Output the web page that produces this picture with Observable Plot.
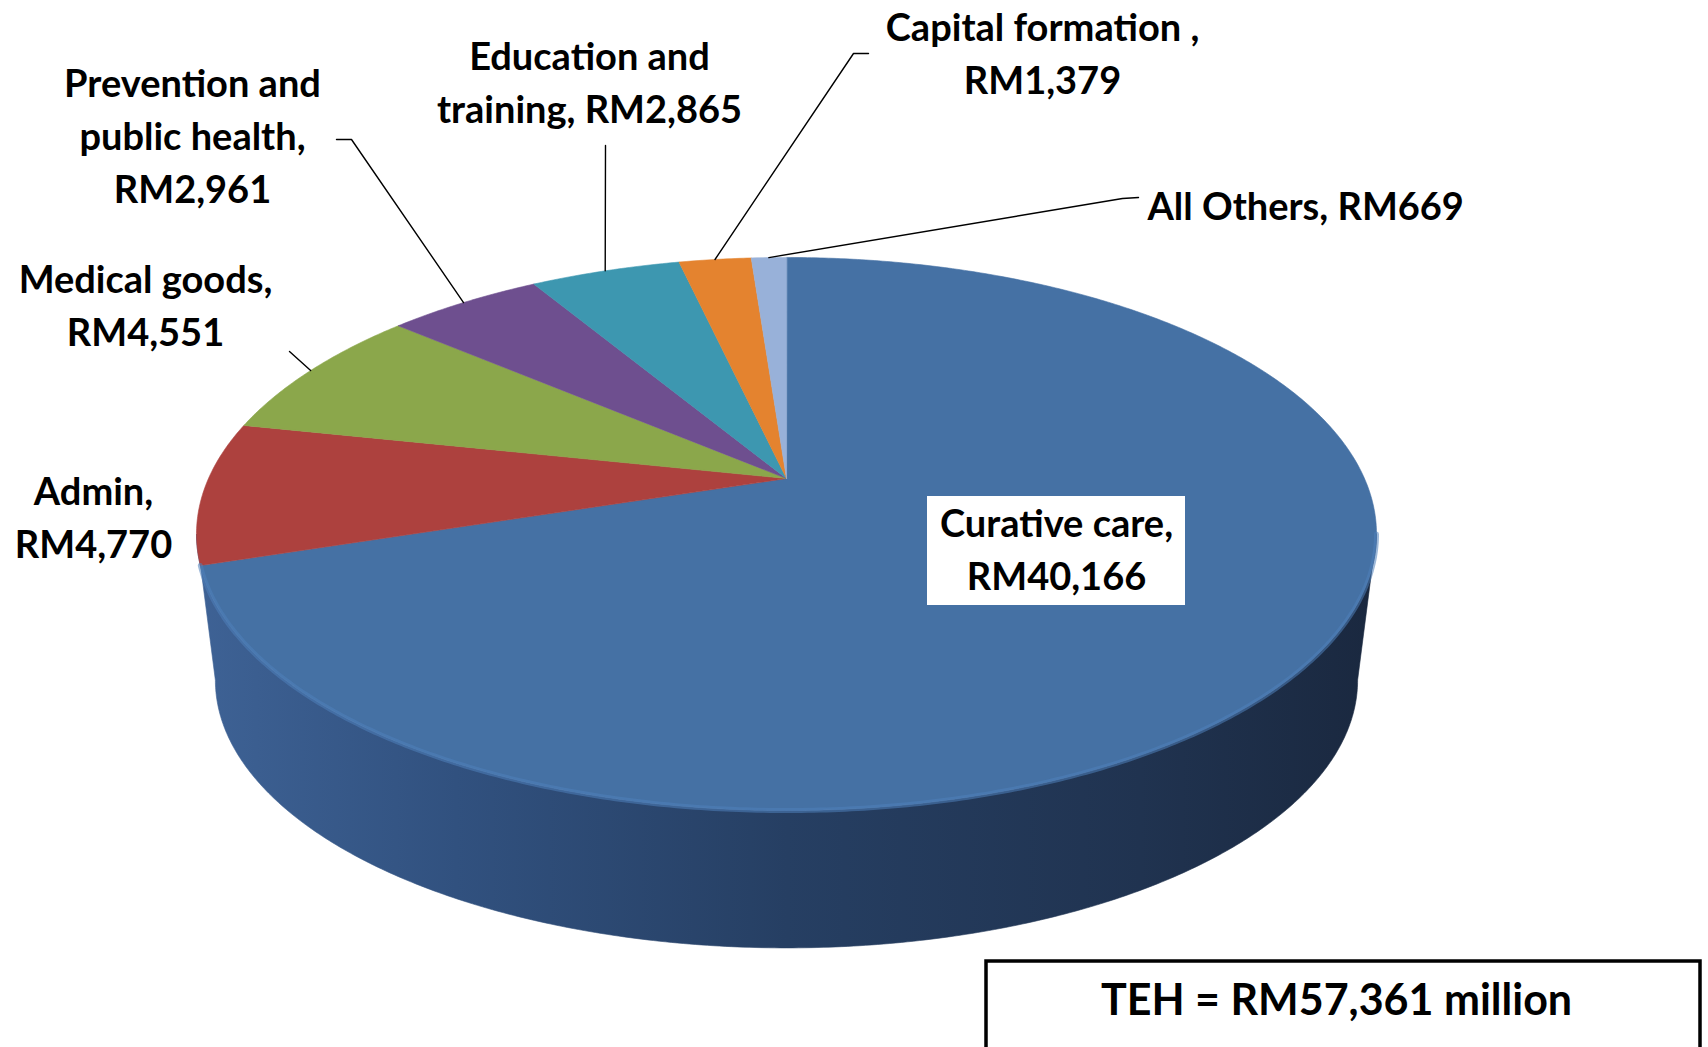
<!DOCTYPE html>
<html>
<head>
<meta charset="utf-8">
<script src="https://cdn.jsdelivr.net/npm/d3@7"></script>
<script src="https://cdn.jsdelivr.net/npm/@observablehq/plot@0.6"></script>
<style>
  html, body { margin: 0; padding: 0; background: #ffffff; }
  #chart { width: 1708px; height: 1047px; overflow: hidden; }
</style>
</head>
<body>
<div id="chart"></div>
<script>
// ---------------- DATA ----------------
const categories = ["Curative care", "Admin", "Medical goods", "Prevention and public health", "Education and training", "Capital formation", "All Others"];
const values = [40166, 4770, 4551, 2961, 2865, 1379, 669];
const labelTexts = [
  "Curative care,\nRM40,166",
  "Admin,\nRM4,770",
  "Medical goods,\nRM4,551",
  "Prevention and\npublic health,\nRM2,961",
  "Education and\ntraining, RM2,865",
  "Capital formation ,\nRM1,379",
  "All Others, RM669"
];
const totalLabel = "TEH = RM57,361 million";

// ---------------- STYLE / LAYOUT ----------------
const W = 1708, H = 1047;
const topColors = ["#4571a4", "#ad413e", "#8ba74b", "#6e4f8f", "#3d97b0", "#e4832f", "#98b1d9"];
const sideFill = "url(#sideBlue)";
// perspective projection of the pie disc (pixel units of the chart's scales)
const pie = { x0: 786, y0: 478, A: 578, B: 265.4, k: 0.2007, depthScale: 0.968, depth: 148 };
const font = "Lato, 'Open Sans', sans-serif";
const fontSize = 38;
const lineH = 53 / fontSize;
// label positions (centre of the text block) and leader-line bends
const labelPos = {
  "Curative care": [1056, 546],
  "Admin": [93, 514],
  "Medical goods": [145, 302],
  "Prevention and public health": [192, 133],
  "Education and training": [589, 79],
  "Capital formation": [1042, 50],
  "All Others": [1147, 207]
};
const leaderBends = {
  "Medical goods": [[289, 351]],
  "Prevention and public health": [[351, 139], [336, 139]],
  "Education and training": [[605, 145]],
  "Capital formation": [[853, 53], [868, 53]],
  "All Others": [[1122, 198], [1138, 197]]
};
const curativeBox = { x1: 927, x2: 1185, y1: 496, y2: 605 };
const totalBox = { x1: 986, x2: 1700, y1: 961, y2: 1052, tx: 1336, ty: 1001 };

// ---------------- GEOMETRY ----------------
function proj(theta, bottom = false) {
  const u = Math.sin(theta), v = Math.cos(theta);
  const w = 1 + pie.k * v;
  const s = bottom ? pie.depthScale : 1;
  const dy = bottom ? pie.depth : 0;
  return [pie.x0 + s * pie.A * u / w, pie.y0 + dy - s * pie.B * v / w];
}
function arc(a0, a1, bottom) {
  const n = Math.max(2, Math.ceil(Math.abs(a1 - a0) / (2 * Math.PI) * 720));
  return d3.range(n + 1).map(j => proj(a0 + (a1 - a0) * j / n, bottom));
}
const total = d3.sum(values);
let cum = 0;
const slices = values.map((v, i) => {
  const a0 = cum / total * 2 * Math.PI;
  cum += v;
  const a1 = cum / total * 2 * Math.PI;
  return { i, cat: categories[i], a0, a1, mid: (a0 + a1) / 2 };
});
const thetaR = Math.PI / 2 + Math.asin(pie.k);
const thetaL = 3 * Math.PI / 2 - Math.asin(pie.k);

const marks = [];
// front side wall (only the curative slice's wall shows)
{
  const pts = arc(thetaR, thetaL, false).concat(arc(thetaL, thetaR, true)).map(([x, y]) => ({ x, y }));
  marks.push(Plot.line(pts, { x: "x", y: "y", fill: sideFill, stroke: sideFill, strokeWidth: 0.6, curve: "linear-closed" }));
}
// top faces
slices.forEach(s => {
  const pts = [[pie.x0, pie.y0]].concat(arc(s.a0, s.a1, false)).map(([x, y]) => ({ x, y }));
  marks.push(Plot.line(pts, { x: "x", y: "y", fill: topColors[s.i], stroke: topColors[s.i], strokeWidth: 0.6, strokeLinejoin: "round", curve: "linear-closed" }));
});
// soft light rim on the front edge of the top face
marks.push(Plot.line(arc(thetaR, Math.min(slices[0].a1, thetaL), false).map(([x, y]) => ({ x, y })),
  { x: "x", y: "y", stroke: "#4f80ba", strokeWidth: 5, strokeOpacity: 0.55 }));

// leader lines
const leaderRows = [];
slices.forEach(s => {
  const bends = leaderBends[s.cat];
  if (!bends) return;
  const [sx, sy] = proj(s.mid, false);
  [[sx, sy], ...bends].forEach(([x, y]) => leaderRows.push({ cat: s.cat, x, y }));
});
marks.push(Plot.line(leaderRows, { x: "x", y: "y", z: "cat", stroke: "#000", strokeWidth: 1.4 }));

// curative label background
marks.push(Plot.rect([curativeBox], { x1: "x1", x2: "x2", y1: "y1", y2: "y2", fill: "#fff" }));

// labels
const labelRows = slices.map(s => ({ cat: s.cat, text: labelTexts[s.i], x: labelPos[s.cat][0], y: labelPos[s.cat][1] }));
marks.push(Plot.text(labelRows.filter(d => d.cat !== "All Others"), {
  x: "x", y: "y", text: "text", fontSize, fontWeight: "bold", fontFamily: font, fill: "#000",
  textAnchor: "middle", lineAnchor: "middle", lineHeight: lineH
}));
marks.push(Plot.text(labelRows.filter(d => d.cat === "All Others"), {
  x: "x", y: "y", text: "text", fontSize, fontWeight: "bold", fontFamily: font, fill: "#000",
  textAnchor: "start", lineAnchor: "middle"
}));

// total box
marks.push(Plot.rect([totalBox], { x1: "x1", x2: "x2", y1: "y1", y2: "y2", fill: "#fff", stroke: "#000", strokeWidth: 3.5 }));
marks.push(Plot.text([totalBox], { x: "tx", y: "ty", text: () => totalLabel, fontSize: 43, fontWeight: "bold", fontFamily: font, fill: "#000", textAnchor: "middle", lineAnchor: "middle" }));

const svg = Plot.plot({
  width: W,
  height: H,
  margin: 0,
  x: { domain: [0, W], range: [0, W], axis: null },
  y: { domain: [0, H], range: [0, H], axis: null },
  style: { background: "#fff", overflow: "hidden" },
  marks
});

// gradient for the side wall
const defs = d3.select(svg).insert("defs", ":first-child");
const g = defs.append("linearGradient").attr("id", "sideBlue").attr("x1", "0").attr("x2", "1").attr("y1", "0").attr("y2", "0");
[[0, "#3e6295"], [0.22, "#31517f"], [0.5, "#263f63"], [0.8, "#203350"], [1, "#1a283f"]].forEach(([o, c]) =>
  g.append("stop").attr("offset", o).attr("stop-color", c));

document.getElementById("chart").appendChild(svg);
</script>
</body>
</html>
